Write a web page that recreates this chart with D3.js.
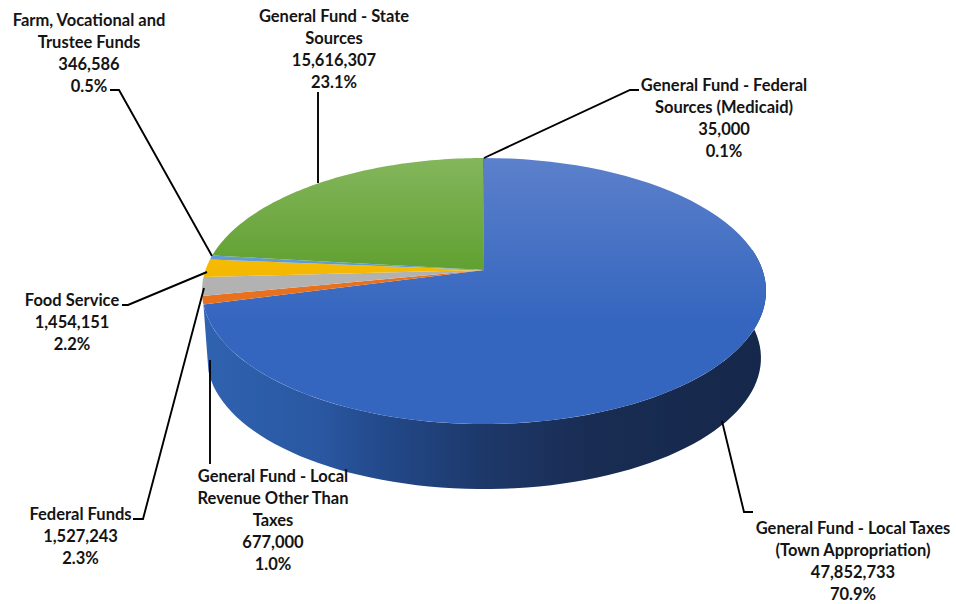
<!DOCTYPE html>
<html><head><meta charset="utf-8">
<script src="https://cdnjs.cloudflare.com/ajax/libs/d3/7.8.5/d3.min.js"></script>
<style>html,body{margin:0;background:#fff}svg{display:block}text{font-family:Lato,"Open Sans",sans-serif;font-weight:700;font-size:16.5px;fill:#141414}</style>
</head><body><svg id="c" width="956" height="604"></svg>
<script>
const categories=["General Fund - Local Taxes (Town Appropriation)","General Fund - Local Revenue Other Than Taxes","Federal Funds","Food Service","Farm, Vocational and Trustee Funds","General Fund - State Sources","General Fund - Federal Sources (Medicaid)"];
const values=[47852733,677000,1527243,1454151,346586,15616307,35000];
const valueLabels=["47,852,733","677,000","1,527,243","1,454,151","346,586","15,616,307","35,000"];
const percents=["70.9%","1.0%","2.3%","2.2%","0.5%","23.1%","0.1%"];
const labelLines=[["General Fund - Local Taxes","(Town Appropriation)"],["General Fund - Local","Revenue Other Than","Taxes"],["Federal Funds"],["Food Service"],["Farm, Vocational and","Trustee Funds"],["General Fund - State","Sources"],["General Fund - Federal","Sources (Medicaid)"]];
// layout (not data)
const labelPos=[[853,534],[273,482],[80.5,520],[72,306],[89,26],[334,22],[724,91]];
const leaders=[
 [[722,421],[744,512],[753,512]],
 [[210,360],[210,464]],
 [[204,288],[143,519],[133,519]],
 [[207,272],[128,305],[122,305]],
 [[212,256],[119,90],[110,90]],
 [[318,183],[318,92]],
 [[484,158],[630,90],[639,90]]
];
const topColors=[["#5c80cb","#3566bf"],["#ee7d2c","#e8711f"],["#a4a4a4","#b2b2b2"],["#ffc81a","#f5b800"],["#6fa5d8","#5e9bd3"],["#84b65c","#5f9f2f"],["#2f5597","#2f5597"]];
const cx=484,cy=270,b=278.5,a=129.7,k=0.158;
const proj=t=>{const u=Math.sin(t),v=Math.cos(t),d=1+k*v;return [cx+b*u/d,cy-a*v/d];};
const lower=p=>[cx+(p[0]-cx)*0.982,358+(p[1]-291)*0.985];
const arcs=d3.pie().sort(null).value(d=>d)(values);
const svg=d3.select("#c"),defs=svg.append("defs");
const sg=defs.append("linearGradient").attr("id","side").attr("gradientUnits","userSpaceOnUse").attr("x1",205).attr("x2",766).attr("y1",0).attr("y2",0);
[[0,"#2f62b0"],[.2,"#2a58a2"],[.31,"#234a8c"],[.5,"#1d3869"],[.7,"#192c52"],[1,"#15274a"]].forEach(s=>sg.append("stop").attr("offset",s[0]).attr("stop-color",s[1]));
topColors.forEach((c,i)=>{const g=defs.append("linearGradient").attr("id","t"+i).attr("gradientUnits","userSpaceOnUse").attr("x1",0).attr("x2",0).attr("y1",158).attr("y2",i==0?320:275);
 g.append("stop").attr("offset",0).attr("stop-color",c[0]);g.append("stop").attr("offset",1).attr("stop-color",c[1]);});
const line=d3.line();
const sample=(t0,t1)=>d3.range(0,81).map(i=>t0+(t1-t0)*i/80);
// the side wall: only the largest slice shows one
{
 const d=arcs[0];
 const t0=Math.PI/2-0.16,t1=d.endAngle;
 const top=sample(t0,t1).map(proj),bot=top.map(lower).reverse();
 svg.append("path").attr("d",line(top.concat(bot))+"Z").attr("fill","url(#side)");
}
// tops
arcs.forEach((d,i)=>{
 const pts=[[cx,cy]].concat(sample(d.startAngle,d.endAngle).map(proj));
 svg.append("path").attr("d",line(pts)+"Z").attr("fill",`url(#t${i})`);
});
// leaders
leaders.forEach(p=>svg.append("path").attr("d",line(p)).attr("fill","none").attr("stroke","#000").attr("stroke-width",1.9));
// labels
categories.forEach((c,i)=>{
 const lines=labelLines[i].concat([valueLabels[i],percents[i]]);
 const t=svg.append("text").attr("text-anchor","middle").attr("transform",`translate(${labelPos[i][0]},${labelPos[i][1]})`);
 lines.forEach((l,j)=>t.append("tspan").attr("x",0).attr("y",j*22).text(l));
});
</script></body></html>
